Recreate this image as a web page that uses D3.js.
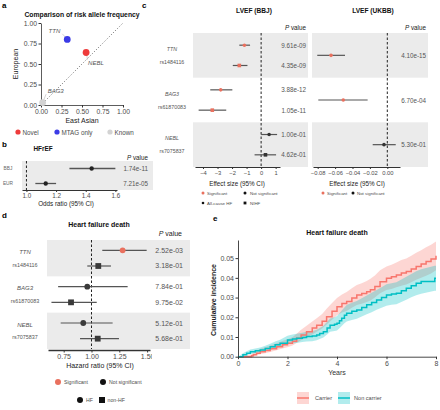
<!DOCTYPE html>
<html><head><meta charset="utf-8">
<script src="https://cdn.jsdelivr.net/npm/d3@7"></script>
<style>body{margin:0;background:#fff} svg{display:block;font-family:"Liberation Sans",Arial,sans-serif}</style>
</head><body><svg id="fig" width="440" height="410"></svg>
<script>
// ---------- Panel a data ----------
const afGenes = ["TTN", "NEBL", "BAG3"];
const afEastAsian = [0.32, 0.55, 0.02];
const afEuropean = [0.80, 0.64, 0.03];
const afGroup = ["MTAG only", "Novel", "Known"];
const afLegend = ["Novel", "MTAG only", "Known"];
const afTicks = [0, 0.25, 0.5, 0.75, 1];

// ---------- Panel b data ----------
const hfrefCohorts = ["BBJ", "EUR"];
const hfrefOR = [1.44, 1.13];
const hfrefLo = [1.29, 1.06];
const hfrefHi = [1.60, 1.20];
const hfrefP = ["1.74e-11", "7.21e-05"];
const hfrefTicks = [1.0, 1.2, 1.4, 1.6];

// ---------- Panel c data ----------
const genes = ["TTN", "BAG3", "NEBL"];
const snps = ["rs1484116", "rs61870083", "rs7075837"];
const bbjOutcome = ["All-cause HF", "NIHF", "All-cause HF", "NIHF", "All-cause HF", "NIHF"];
const bbjEst = [-1.15, -1.50, -2.78, -3.36, 0.55, 0.30];
const bbjLo = [-1.50, -1.95, -3.50, -4.30, 0.00, -0.45];
const bbjHi = [-0.76, -0.94, -1.98, -2.40, 1.10, 1.03];
const bbjP = ["9.61e-09", "4.35e-09", "3.88e-12", "1.05e-11", "1.00e-01", "4.62e-01"];
const bbjTicks = [-4, -3, -2, -1, 0, 1];
const ukbbEst = [-0.0647, -0.0506, -0.0038];
const ukbbLo = [-0.0805, -0.0793, -0.0168];
const ukbbHi = [-0.0486, -0.0226, 0.0097];
const ukbbP = ["4.10e-15", "6.70e-04", "5.30e-01"];
const ukbbTicks = [-0.08, -0.06, -0.04, -0.02, 0];

// ---------- Panel d data ----------
const hfdOutcome = ["HF", "non-HF", "HF", "non-HF", "HF", "non-HF"];
const hfdEst = [1.28, 1.061, 0.962, 0.816, 0.926, 1.056];
const hfdLo = [1.097, 0.962, 0.70, 0.64, 0.723, 0.897];
const hfdHi = [1.496, 1.175, 1.325, 1.047, 1.19, 1.247];
const hfdP = ["2.52e-03", "3.18e-01", "7.84e-01", "9.75e-02", "5.12e-01", "5.68e-01"];
const hfdTicks = [0.75, 1.0, 1.25, 1.5];

// ---------- Panel e data ----------
const carrierT = [0, 0.55, 0.62, 0.75, 0.9, 1.1, 1.3, 1.56, 1.8, 2.0, 2.2, 2.37, 2.55, 2.77, 3.0, 3.18, 3.4, 3.58, 3.8, 4.0, 4.2, 4.39, 4.6, 4.8, 5.0, 5.2, 5.35, 5.53, 5.74, 6.0, 6.2, 6.4, 6.6, 6.8, 7.0, 7.2, 7.4, 7.6, 7.8, 8.0];
const carrierEst = [0, 0.0005, 0.001, 0.0018, 0.0025, 0.0032, 0.0040, 0.0050, 0.0060, 0.0068, 0.0078, 0.0093, 0.0110, 0.0127, 0.0145, 0.0160, 0.0180, 0.0203, 0.0230, 0.0254, 0.0270, 0.0280, 0.0298, 0.0313, 0.0320, 0.0330, 0.0340, 0.0356, 0.0380, 0.0398, 0.0405, 0.0415, 0.0425, 0.0432, 0.0445, 0.0458, 0.0470, 0.0483, 0.0495, 0.0512];
const carrierHi = [0, 0.0012, 0.0020, 0.0030, 0.0040, 0.0048, 0.0057, 0.0068, 0.0080, 0.0088, 0.0099, 0.0117, 0.0137, 0.0157, 0.0178, 0.0195, 0.0217, 0.0243, 0.0272, 0.0298, 0.0316, 0.0328, 0.0347, 0.0364, 0.0372, 0.0384, 0.0395, 0.0412, 0.0438, 0.0458, 0.0466, 0.0478, 0.0490, 0.0498, 0.0512, 0.0527, 0.0540, 0.0555, 0.0568, 0.0585];
const carrierLo = [0, 0, 0.0002, 0.0008, 0.0013, 0.0018, 0.0024, 0.0033, 0.0041, 0.0048, 0.0057, 0.0070, 0.0084, 0.0098, 0.0113, 0.0126, 0.0143, 0.0163, 0.0188, 0.0210, 0.0224, 0.0232, 0.0248, 0.0262, 0.0268, 0.0277, 0.0285, 0.0300, 0.0322, 0.0338, 0.0344, 0.0352, 0.0360, 0.0366, 0.0378, 0.0390, 0.0400, 0.0411, 0.0422, 0.0438];
const nonT = [0, 0.2, 0.35, 0.5, 0.7, 0.9, 1.1, 1.3, 1.5, 1.7, 2.0, 2.2, 2.37, 2.6, 2.77, 3.0, 3.18, 3.3, 3.45, 3.6, 3.72, 3.9, 4.0, 4.1, 4.19, 4.3, 4.39, 4.6, 4.8, 5.0, 5.2, 5.4, 5.6, 5.8, 6.0, 6.2, 6.4, 6.6, 6.8, 7.0, 7.2, 7.4, 7.95, 8.0];
const nonEst = [0, 0.0010, 0.0018, 0.0025, 0.0030, 0.0034, 0.0042, 0.0050, 0.0060, 0.0068, 0.0085, 0.0090, 0.0093, 0.0098, 0.0102, 0.0105, 0.0110, 0.0118, 0.0127, 0.0145, 0.0160, 0.0165, 0.0170, 0.0182, 0.0195, 0.0210, 0.0220, 0.0230, 0.0237, 0.0250, 0.0263, 0.0275, 0.0288, 0.0300, 0.0313, 0.0318, 0.0322, 0.0335, 0.0347, 0.0360, 0.0373, 0.0381, 0.0398, 0.0398];
const nonHi = [0, 0.0018, 0.0028, 0.0036, 0.0042, 0.0047, 0.0056, 0.0066, 0.0077, 0.0086, 0.0106, 0.0112, 0.0116, 0.0122, 0.0127, 0.0131, 0.0137, 0.0146, 0.0157, 0.0177, 0.0194, 0.0200, 0.0207, 0.0220, 0.0234, 0.0250, 0.0262, 0.0274, 0.0282, 0.0296, 0.0311, 0.0324, 0.0338, 0.0352, 0.0367, 0.0373, 0.0378, 0.0392, 0.0405, 0.0419, 0.0434, 0.0443, 0.0462, 0.0462];
const nonLo = [0, 0.0002, 0.0008, 0.0014, 0.0018, 0.0021, 0.0028, 0.0034, 0.0043, 0.0050, 0.0064, 0.0068, 0.0070, 0.0074, 0.0077, 0.0079, 0.0083, 0.0090, 0.0097, 0.0113, 0.0126, 0.0130, 0.0133, 0.0144, 0.0156, 0.0170, 0.0178, 0.0186, 0.0192, 0.0204, 0.0215, 0.0226, 0.0238, 0.0248, 0.0259, 0.0263, 0.0266, 0.0278, 0.0289, 0.0301, 0.0312, 0.0319, 0.0334, 0.0334];
const eXTicks = [0, 2, 4, 6, 8];
const eYTicks = [0, 0.01, 0.02, 0.03, 0.04, 0.05];
const eLegend = ["Carrier", "Non carrier"];

// ---------- drawing ----------
const svg = d3.select("#fig");
const TXT = "#4d4d4d", BAND = "#ebebeb", LINE = "#555", DOT = "#333";
const RED = "#e9705e", FONT = "Liberation Sans, Arial, sans-serif";
const afColor = d3.scaleOrdinal().domain(afLegend).range(["#ee3b3b", "#3b3be6", "#d3d3d3"]);

function txt(g, x, y, s, o = {}) {
  const t = g.append("text").attr("x", x).attr("y", y).text(s)
    .attr("font-size", o.size || 6).attr("fill", o.fill || TXT)
    .attr("text-anchor", o.anchor || "start").attr("dominant-baseline", "central");
  if (o.bold) t.attr("font-weight", "bold");
  if (o.italic) t.attr("font-style", "italic");
  return t;
}
function pLabel(g, x, y, size) {
  const t = g.append("text").attr("x", x).attr("y", y).attr("font-size", size).attr("fill", "#222")
    .attr("text-anchor", "end").attr("dominant-baseline", "central");
  t.append("tspan").attr("font-style", "italic").text("P");
  t.append("tspan").text(" value");
}
function styleAxis(a, size) {
  a.select(".domain").attr("stroke", "#333").attr("stroke-width", 1.2);
  a.selectAll(".tick line").attr("stroke", "#333");
  a.selectAll(".tick text").attr("fill", TXT).attr("font-size", size).attr("font-family", FONT);
}
function shape(g, type, x, y, s, color) {
  if (type === "square") g.append("rect").attr("x", x - s).attr("y", y - s).attr("width", 2 * s).attr("height", 2 * s).attr("fill", color);
  else g.append("circle").attr("cx", x).attr("cy", y).attr("r", s).attr("fill", color);
}

// Panel letters
[["a", 2, 5], ["b", 2, 144], ["c", 142, 5], ["d", 2, 215], ["e", 213, 218]].forEach(([l, x, y]) =>
  txt(svg, x, y, l, { size: 8, bold: true, fill: "#000" }));

// ===== Panel a =====
{
  const g = svg.append("g");
  const x = d3.scaleLinear().domain([0, 1]).range([41, 123]);
  const y = d3.scaleLinear().domain([0, 1]).range([105, 23]);
  txt(g, 82, 14, "Comparison of risk allele frequency", { size: 6.8, bold: true, anchor: "middle", fill: "#111" });
  const xa = g.append("g").attr("transform", "translate(0,105)")
    .call(d3.axisBottom(x).tickValues(afTicks).tickFormat(d3.format(".2f")).tickSize(2.5).tickSizeOuter(0).tickPadding(1.5));
  const ya = g.append("g").attr("transform", "translate(41,0)")
    .call(d3.axisLeft(y).tickValues(afTicks).tickFormat(d3.format(".2f")).tickSize(2.5).tickSizeOuter(0).tickPadding(1.5));
  [xa, ya].forEach(a => { styleAxis(a, 6.8); a.select(".domain").attr("stroke-width", 0.8); });
  g.append("line").attr("x1", x(0)).attr("y1", y(0)).attr("x2", x(1)).attr("y2", y(1))
    .attr("stroke", "#555").attr("stroke-width", 0.9).attr("stroke-dasharray", "1,2");
  txt(g, 82, 120, "East Asian", { size: 7, anchor: "middle", fill: "#222" });
  txt(g, 0, 0, "European", { size: 7, anchor: "middle", fill: "#222" }).attr("transform", "translate(15,64) rotate(-90)");
  const labelOff = { TTN: [-7, -8, "end"], NEBL: [2, 10, "start"], BAG3: [5, -12, "start"] };
  afGenes.forEach((gname, i) => {
    const px = x(afEastAsian[i]), py = y(afEuropean[i]);
    const [dx, dy, anc] = labelOff[gname];
    g.append("line").attr("x1", px).attr("y1", py).attr("x2", px + dx * 0.7).attr("y2", py + dy * 0.7)
      .attr("stroke", "#aaa").attr("stroke-width", 0.5);
    txt(g, px + dx, py + dy, gname, { size: 6, italic: true, anchor: anc, fill: "#555" });
  });
  afGenes.forEach((gname, i) => {
    g.append("circle").attr("cx", x(afEastAsian[i])).attr("cy", y(afEuropean[i])).attr("r", 3.4).attr("fill", afColor(afGroup[i]));
  });
  const legX = [18, 57, 110];
  afLegend.forEach((l, i) => {
    g.append("circle").attr("cx", legX[i]).attr("cy", 132).attr("r", 2.6).attr("fill", afColor(l));
    txt(g, legX[i] + 4.5, 132, l, { size: 6.3 });
  });
}

// ===== Panel b =====
{
  const g = svg.append("g");
  const x = d3.scaleLinear().domain([0.97, 1.611]).range([22, 117]);
  const y = d3.scalePoint().domain(hfrefCohorts).range([161, 191]).padding(0.5);
  txt(g, 43, 148, "HFrEF", { size: 6.4, bold: true, anchor: "middle", fill: "#111" });
  pLabel(g, 148, 157, 6.3);
  g.append("rect").attr("x", 22).attr("y", 161).attr("width", 131).attr("height", 29).attr("fill", BAND);
  g.append("line").attr("x1", x(1)).attr("x2", x(1)).attr("y1", 161).attr("y2", 190)
    .attr("stroke", "#222").attr("stroke-width", 1).attr("stroke-dasharray", "2.5,2");
  hfrefCohorts.forEach((c, i) => {
    const yy = y(c);
    txt(g, 8, yy, c, { size: 4.8, anchor: "middle", fill: "#666" });
    g.append("line").attr("x1", x(hfrefLo[i])).attr("x2", x(hfrefHi[i])).attr("y1", yy).attr("y2", yy)
      .attr("stroke", LINE).attr("stroke-width", 1.3);
    g.append("circle").attr("cx", x(hfrefOR[i])).attr("cy", yy).attr("r", 2.2).attr("fill", "#222");
    txt(g, 148, yy, hfrefP[i], { size: 6.3, anchor: "end", fill: "#555" });
  });
  const a = g.append("g").attr("transform", "translate(0,190)")
    .call(d3.axisBottom(x).tickValues(hfrefTicks).tickFormat(d3.format(".1f")).tickSize(2).tickSizeOuter(0).tickPadding(1.5));
  styleAxis(a, 6.3);
  txt(g, 66, 203, "Odds ratio (95% CI)", { size: 6.3, anchor: "middle", fill: "#222" });
}

// ===== Forest helper for c / d =====
function forest(opts) {
  const g = svg.append("g");
  const bands = d3.scaleBand().domain(genes).range(opts.bandY);
  const x = opts.x;
  genes.forEach((gn, gi) => {
    if (gi !== 1) g.append("rect").attr("x", opts.bandX[0]).attr("y", bands(gn))
      .attr("width", opts.bandX[1] - opts.bandX[0]).attr("height", bands.bandwidth()).attr("fill", BAND);
  });
  g.append("line").attr("x1", x(opts.ref)).attr("x2", x(opts.ref)).attr("y1", opts.bandY[0]).attr("y2", opts.bandY[1])
    .attr("stroke", "#222").attr("stroke-width", 1).attr("stroke-dasharray", "2.5,2");
  return { g, bands };
}

// ===== Panel c (BBJ) =====
{
  const x = d3.scaleLinear().domain([-4.55, 1.3]).range([195, 280]);
  const { g, bands } = forest({ x, ref: 0, bandY: [33, 167], bandX: [193, 308] });
  txt(g, 254, 10, "LVEF (BBJ)", { size: 6.6, bold: true, anchor: "middle", fill: "#111" });
  pLabel(g, 306, 27, 6.3);
  genes.forEach((gn, gi) => {
    const sub = d3.scalePoint().domain([0, 1]).range([bands(gn), bands(gn) + bands.bandwidth()]).padding(0.6);
    txt(g, 172, bands(gn) + 16, gn, { size: 5.3, italic: true, anchor: "middle", fill: "#555" });
    txt(g, 172, bands(gn) + 29, snps[gi], { size: 5.3, anchor: "middle", fill: "#555" });
    [0, 1].forEach(k => {
      const i = gi * 2 + k, yy = sub(k);
      const sig = parseFloat(bbjP[i]) < 0.05;
      g.append("line").attr("x1", x(bbjLo[i])).attr("x2", x(bbjHi[i])).attr("y1", yy).attr("y2", yy)
        .attr("stroke", LINE).attr("stroke-width", 1.2);
      shape(g, bbjOutcome[i] === "NIHF" ? "square" : "circle", x(bbjEst[i]), yy, 1.8, sig ? RED : DOT);
      txt(g, 306, yy, bbjP[i], { size: 6.3, anchor: "end", fill: "#555" });
    });
  });
  const a = g.append("g").attr("transform", "translate(0,167)")
    .call(d3.axisBottom(x).tickValues(bbjTicks).tickFormat(d3.format("d")).tickSize(2).tickSizeOuter(0).tickPadding(1.5));
  styleAxis(a, 5.8);
  txt(g, 237, 183, "Effect size (95% CI)", { size: 6.3, anchor: "middle", fill: "#222" });
  shape(g, "circle", 203, 193, 1.5, RED); txt(g, 207, 193, "Significant", { size: 4.4 });
  shape(g, "circle", 245, 193, 1.5, "#111"); txt(g, 250, 193, "Not significant", { size: 4.4 });
  shape(g, "circle", 203, 203, 1.3, "#111"); txt(g, 207, 203, "All-cause HF", { size: 4.4 });
  shape(g, "square", 245, 203, 1.4, "#111"); txt(g, 250, 203, "NIHF", { size: 4.4 });
}

// ===== Panel c (UKBB) =====
{
  const x = d3.scaleLinear().domain([-0.0854, 0.0146]).range([313, 400]);
  const { g, bands } = forest({ x, ref: 0, bandY: [33, 167], bandX: [312, 428] });
  txt(g, 373, 10, "LVEF (UKBB)", { size: 6.6, bold: true, anchor: "middle", fill: "#111" });
  pLabel(g, 426, 27, 6.3);
  genes.forEach((gn, gi) => {
    const yy = bands(gn) + bands.bandwidth() / 2;
    const sig = parseFloat(ukbbP[gi]) < 0.05;
    g.append("line").attr("x1", x(ukbbLo[gi])).attr("x2", x(ukbbHi[gi])).attr("y1", yy).attr("y2", yy)
      .attr("stroke", LINE).attr("stroke-width", 1.2);
    shape(g, "circle", x(ukbbEst[gi]), yy, 1.8, sig ? RED : DOT);
    txt(g, 426, yy, ukbbP[gi], { size: 6.3, anchor: "end", fill: "#555" });
  });
  const a = g.append("g").attr("transform", "translate(0,167)")
    .call(d3.axisBottom(x).tickValues(ukbbTicks).tickFormat(d3.format(".2f")).tickSize(2).tickSizeOuter(0).tickPadding(1.5));
  styleAxis(a, 5.8);
  txt(g, 357, 183, "Effect size (95% CI)", { size: 6.3, anchor: "middle", fill: "#222" });
  shape(g, "circle", 323, 193, 1.5, RED); txt(g, 327, 193, "Significant", { size: 4.4 });
  shape(g, "circle", 353, 193, 1.5, "#111"); txt(g, 357, 193, "Not significant", { size: 4.4 });
}

// ===== Panel d =====
{
  const x = d3.scaleLinear().domain([0.609, 1.526]).range([48, 150]);
  const { g, bands } = forest({ x, ref: 1, bandY: [240, 349], bandX: [47, 190] });
  txt(g, 99, 224, "Heart failure death", { size: 7, bold: true, anchor: "middle", fill: "#111" });
  pLabel(g, 182, 233, 7);
  genes.forEach((gn, gi) => {
    const sub = d3.scalePoint().domain([0, 1]).range([bands(gn), bands(gn) + bands.bandwidth()]).padding(0.66);
    txt(g, 25, bands(gn) + 12, gn, { size: 6, italic: true, anchor: "middle", fill: "#555" });
    txt(g, 25, bands(gn) + 24.5, snps[gi], { size: 5.4, anchor: "middle", fill: "#555" });
    [0, 1].forEach(k => {
      const i = gi * 2 + k, yy = sub(k);
      const sig = parseFloat(hfdP[i]) < 0.05;
      g.append("line").attr("x1", x(hfdLo[i])).attr("x2", x(hfdHi[i])).attr("y1", yy).attr("y2", yy)
        .attr("stroke", LINE).attr("stroke-width", 1.2);
      shape(g, hfdOutcome[i] === "HF" ? "circle" : "square", x(hfdEst[i]), yy, 2.9, sig ? RED : "#3a3a3a");
      txt(g, 183, yy, hfdP[i], { size: 7, anchor: "end", fill: "#555" });
    });
  });
  svg.append("clipPath").attr("id", "dclip").append("rect").attr("x", 40).attr("y", 340).attr("width", 112).attr("height", 30);
  const a = g.append("g").attr("clip-path", "url(#dclip)").append("g").attr("transform", "translate(0,350)")
    .call(d3.axisBottom(x).tickValues(hfdTicks).tickFormat(d3.format(".2f")).tickSize(2.5).tickSizeOuter(0).tickPadding(1.5));
  styleAxis(a, 7);
  a.select(".domain").attr("stroke-width", 1.6);
  txt(g, 100, 365, "Hazard ratio (95% CI)", { size: 7, anchor: "middle", fill: "#222" });
  shape(g, "circle", 58, 382, 3, RED); txt(g, 64, 382, "Significant", { size: 5.2 });
  shape(g, "circle", 103, 382, 3, "#111"); txt(g, 109, 382, "Not significant", { size: 5.2 });
  shape(g, "circle", 80, 400, 3, "#111"); txt(g, 86, 400, "HF", { size: 5.2 });
  shape(g, "square", 102, 400, 3, "#111"); txt(g, 107.5, 400, "non-HF", { size: 5.2 });
}

// ===== Panel e =====
{
  const g = svg.append("g");
  const x = d3.scaleLinear().domain([0, 8]).range([238, 436]);
  const y = d3.scaleLinear().domain([0, 0.0592]).range([356.7, 240]);
  const color = d3.scaleOrdinal().domain(eLegend).range(["#f8766d", "#00bfc4"]);
  txt(g, 337, 232, "Heart failure death", { size: 7, bold: true, anchor: "middle", fill: "#111" });
  const series = [
    { name: "Carrier", t: carrierT, est: carrierEst, lo: carrierLo, hi: carrierHi },
    { name: "Non carrier", t: nonT, est: nonEst, lo: nonLo, hi: nonHi }
  ];
  const area = d3.area().curve(d3.curveLinear).x(d => x(d.t)).y0(d => y(d.lo)).y1(d => y(d.hi));
  const line = d3.line().curve(d3.curveStepAfter).x(d => x(d.t)).y(d => y(d.est));
  series.forEach(s => {
    const pts = s.t.map((t, i) => ({ t, est: s.est[i], lo: s.lo[i], hi: s.hi[i] }));
    g.append("path").datum(pts).attr("d", area).attr("fill", color(s.name)).attr("fill-opacity", 0.3);
  });
  series.forEach(s => {
    const pts = s.t.map((t, i) => ({ t, est: s.est[i] }));
    g.append("path").datum(pts).attr("d", line).attr("fill", "none").attr("stroke", color(s.name)).attr("stroke-width", 1.5);
  });
  const xa = g.append("g").attr("transform", "translate(0,356.7)")
    .call(d3.axisBottom(x).tickValues(eXTicks).tickFormat(d3.format("d")).tickSize(2.5).tickSizeOuter(0).tickPadding(1.5));
  const ya = g.append("g").attr("transform", "translate(238,0)")
    .call(d3.axisLeft(y).tickValues(eYTicks).tickFormat(d3.format(".2f")).tickSize(2.5).tickSizeOuter(0).tickPadding(1.5));
  [xa, ya].forEach(a => { styleAxis(a, 7); a.select(".domain").attr("stroke-width", 0.9); });
  txt(g, 337, 372, "Years", { size: 7, anchor: "middle", fill: "#333" });
  txt(g, 0, 0, "Cumulative incidence", { size: 7, bold: true, anchor: "middle", fill: "#222" })
    .attr("transform", "translate(213,300) rotate(-90)");
  const legX = [297, 338], legTX = [315, 354];
  eLegend.forEach((l, i) => {
    g.append("rect").attr("x", legX[i]).attr("y", 392).attr("width", 12).attr("height", 12)
      .attr("fill", color(l)).attr("fill-opacity", 0.3);
    g.append("line").attr("x1", legX[i]).attr("x2", legX[i] + 12).attr("y1", 398).attr("y2", 398)
      .attr("stroke", color(l)).attr("stroke-width", 1.5);
    txt(g, legTX[i], 398, l, { size: 5.6 });
  });
}
</script></body></html>
